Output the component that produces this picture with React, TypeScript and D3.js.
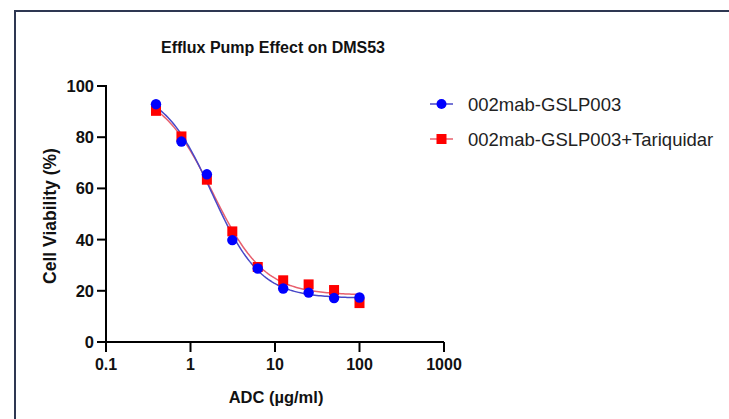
import React, { useMemo } from "react";
import * as d3 from "d3";

const concentrations = [0.390625, 0.78125, 1.5625, 3.125, 6.25, 12.5, 25, 50, 100];
const viabilityGSLP = [92.9, 78.3, 65.5, 39.8, 28.7, 20.9, 19.3, 17.2, 17.4];
const viabilityTariquidar = [90.3, 80.3, 63.4, 43.2, 29.3, 24.1, 22.5, 20.3, 15.2];
const seriesNames = ["002mab-GSLP003", "002mab-GSLP003+Tariquidar"];
const xTicks = [0.1, 1, 10, 100, 1000];
const yTicks = [0, 20, 40, 60, 80, 100];

const W = 729;
const H = 419;
const FONT = "'Liberation Sans', Arial, sans-serif";

function fourPL(p: number[], x: number) {
  const [bottom, top, logEC, hill] = p;
  return bottom + (top - bottom) / (1 + Math.pow(10, (Math.log10(x) - logEC) * hill));
}

function fit(xs: number[], ys: number[]) {
  const sse = (p: number[]) => {
    let s = 0;
    xs.forEach((x, i) => {
      const r = fourPL(p, x) - ys[i];
      s += r * r;
    });
    return s;
  };
  // Nelder-Mead
  const n = 4;
  let simplex: number[][] = [[d3.min(ys)!, d3.max(ys)! + 5, 0.4, 1.2]];
  const steps = [3, 5, 0.2, 0.3];
  for (let i = 0; i < n; i++) {
    const v = simplex[0].slice();
    v[i] += steps[i];
    simplex.push(v);
  }
  let vals = simplex.map(sse);
  for (let it = 0; it < 4000; it++) {
    const order = d3.range(n + 1).sort((a, b) => vals[a] - vals[b]);
    simplex = order.map((i) => simplex[i]);
    vals = order.map((i) => vals[i]);
    const centroid = d3.range(n).map((j) => d3.mean(simplex.slice(0, n), (v) => v[j])!);
    const worst = simplex[n];
    const refl = centroid.map((c, j) => c + (c - worst[j]));
    const fr = sse(refl);
    if (fr < vals[0]) {
      const exp = centroid.map((c, j) => c + 2 * (c - worst[j]));
      const fe = sse(exp);
      if (fe < fr) { simplex[n] = exp; vals[n] = fe; } else { simplex[n] = refl; vals[n] = fr; }
    } else if (fr < vals[n - 1]) {
      simplex[n] = refl; vals[n] = fr;
    } else {
      const con = centroid.map((c, j) => c + 0.5 * (worst[j] - c));
      const fc = sse(con);
      if (fc < vals[n]) { simplex[n] = con; vals[n] = fc; }
      else {
        for (let i = 1; i <= n; i++) {
          simplex[i] = simplex[i].map((v, j) => simplex[0][j] + 0.5 * (v - simplex[0][j]));
          vals[i] = sse(simplex[i]);
        }
      }
    }
  }
  return simplex[0];
}

export default function App() {
  const x = d3.scaleLog().domain([0.1, 1000]).range([106, 444]);
  const y = d3.scaleLinear().domain([0, 100]).range([342, 86]);

  const curves = useMemo(() => {
    const make = (ys: number[]) => {
      const p = fit(concentrations, ys);
      const lo = Math.log10(concentrations[0]);
      const hi = Math.log10(concentrations[concentrations.length - 1]);
      const pts = d3.range(0, 101).map((i) => {
        const cx = Math.pow(10, lo + ((hi - lo) * i) / 100);
        return [cx, fourPL(p, cx)] as [number, number];
      });
      return d3.line<[number, number]>().x((d) => x(d[0])).y((d) => y(d[1]))(pts) || "";
    };
    return [make(viabilityGSLP), make(viabilityTariquidar)];
  }, []);

  const blue = "#0000ff";
  const red = "#ff0000";

  return (
    <svg width={W} height={H} style={{ position: "absolute", left: 0, top: 0, background: "#fff" }}>
      <rect x={0} y={0} width={W} height={H} fill="#fff" />
      <path d={`M15,${H} V11 H${W}`} fill="none" stroke="#2e3752" strokeWidth={2} />

      <text x={273} y={47} textAnchor="middle" dominantBaseline="central" fontFamily={FONT} fontWeight="bold" fontSize={16} fill="#111">
        Efflux Pump Effect on DMS53
      </text>

      {/* axes */}
      <line x1={x(0.1)} x2={x(1000)} y1={y(0)} y2={y(0)} stroke="#000" strokeWidth={2} />
      <line x1={x(0.1)} x2={x(0.1)} y1={y(0) + 1} y2={y(100) - 1} stroke="#000" strokeWidth={2} />
      {xTicks.map((t) => (
        <g key={t}>
          <line x1={x(t)} x2={x(t)} y1={y(0)} y2={y(0) + 10} stroke="#000" strokeWidth={2} />
          <text x={x(t)} y={370} textAnchor="middle" fontFamily={FONT} fontWeight="bold" fontSize={16} fill="#111">
            {String(t)}
          </text>
        </g>
      ))}
      {yTicks.map((t) => (
        <g key={t}>
          <line x1={x(0.1) - 9} x2={x(0.1)} y1={y(t)} y2={y(t)} stroke="#000" strokeWidth={2} />
          <text x={94} y={y(t)} textAnchor="end" dominantBaseline="central" fontFamily={FONT} fontWeight="bold" fontSize={16.5} fill="#111">
            {t}
          </text>
        </g>
      ))}
      <text x={276} y={403} textAnchor="middle" fontFamily={FONT} fontWeight="bold" fontSize={16.5} fill="#111">
        ADC (µg/ml)
      </text>
      <text transform="translate(50,216) rotate(-90)" textAnchor="middle" dominantBaseline="central" fontFamily={FONT} fontWeight="bold" fontSize={17.5} fill="#111">
        Cell Viability (%)
      </text>

      {/* curves */}
      <path d={curves[1]} fill="none" stroke="#e8606e" strokeWidth={1.5} />
      <path d={curves[0]} fill="none" stroke="#4848c8" strokeWidth={1.5} />

      {/* markers */}
      {concentrations.map((c, i) => (
        <rect key={"r" + i} x={x(c) - 5} y={y(viabilityTariquidar[i]) - 5} width={10} height={10} fill={red} />
      ))}
      {concentrations.map((c, i) => (
        <circle key={"c" + i} cx={x(c)} cy={y(viabilityGSLP[i])} r={5.2} fill={blue} />
      ))}

      {/* legend */}
      <line x1={430} x2={453} y1={104} y2={104} stroke="#4848c8" strokeWidth={1.5} />
      <circle cx={441.5} cy={104} r={5} fill={blue} />
      <text x={468} y={104} dominantBaseline="central" fontFamily={FONT} fontSize={18.5} fill="#222">
        {seriesNames[0]}
      </text>
      <line x1={430} x2={453} y1={139} y2={139} stroke="#e8606e" strokeWidth={1.5} />
      <rect x={436.5} y={134} width={10} height={10} fill={red} />
      <text x={468} y={139} dominantBaseline="central" fontFamily={FONT} fontSize={18.5} fill="#222">
        {seriesNames[1]}
      </text>
    </svg>
  );
}
